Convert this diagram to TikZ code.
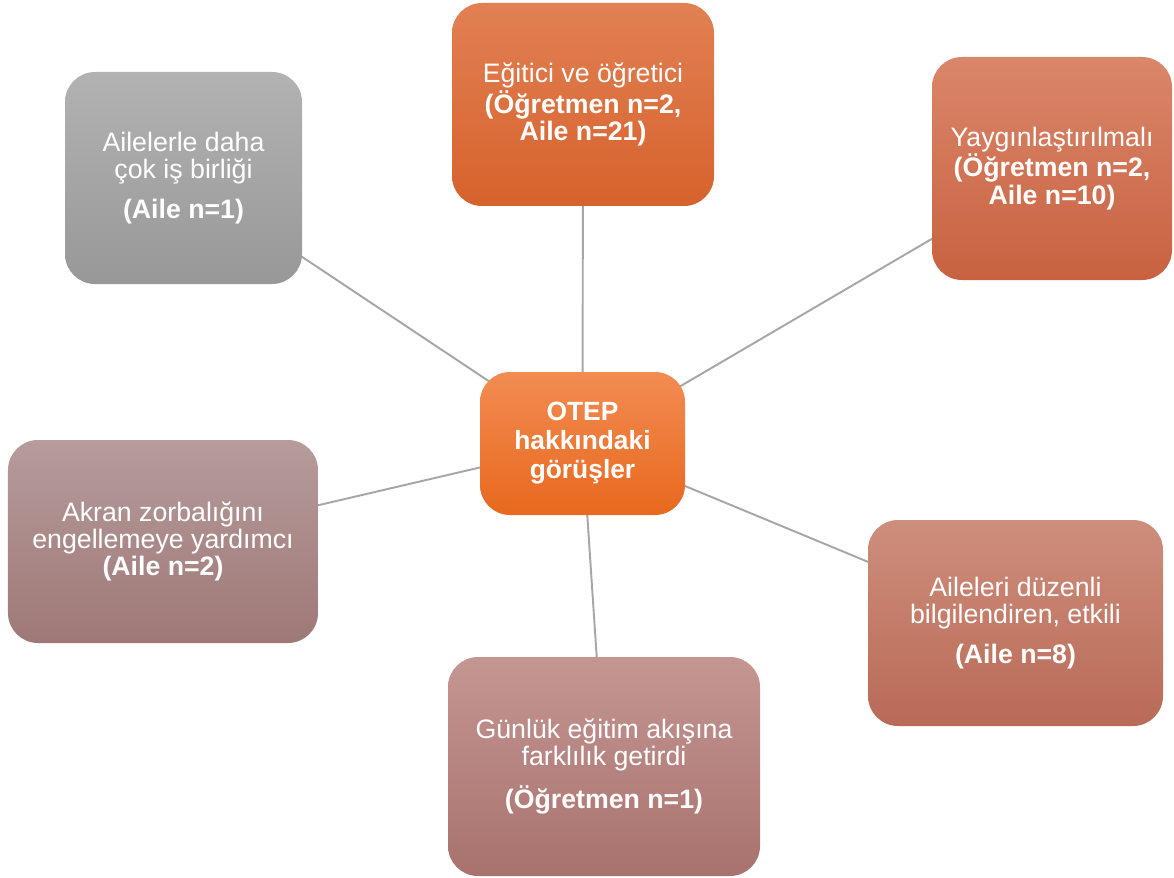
\documentclass[tikz,border=0pt]{standalone}
\usepackage{fontspec}
\setmainfont{Liberation Sans}
\usepackage{tikz}
\usetikzlibrary{backgrounds}

\definecolor{linegray}{HTML}{A6A6A6}

\begin{document}
\begin{tikzpicture}
  \tikzstyle{box} = [rectangle, rounded corners=0.6cm, align=center, text=white,
                     font=\fontsize{15.2}{15.4}\selectfont, inner sep=2pt]
  \tikzstyle{edge} = [draw=linegray, line width=1.1pt]

  \useasboundingbox (0,0) rectangle (23.48,-17.56);

  \node[box, minimum width=4.1cm, minimum height=2.86cm,
        top color={rgb,255:red,242;green,140;blue,82}, bottom color={rgb,255:red,232;green,104;blue,30},
        font=\fontsize{15}{16.5}\selectfont\bfseries]
        (otep) at (11.65,-8.87) {OTEP\\hakkındaki\\görüşler};

  \node[box, minimum width=5.24cm, minimum height=4.06cm,
        top color={rgb,255:red,226;green,128;blue,84}, bottom color={rgb,255:red,214;green,98;blue,44}]
        (egitici) at (11.66,-2.09) {Eğitici ve öğretici\\\textbf{(Öğretmen n=2,}\\\textbf{Aile n=21)}};

  \node[box, minimum width=4.74cm, minimum height=4.24cm,
        top color={rgb,255:red,178;green,178;blue,178}, bottom color={rgb,255:red,152;green,152;blue,152}]
        (isbirligi) at (3.67,-3.56) {Ailelerle daha\\çok iş birliği\\[7pt]\textbf{(Aile n=1)}};

  \node[box, minimum width=4.8cm, minimum height=4.46cm,
        top color={rgb,255:red,218;green,134;blue,106}, bottom color={rgb,255:red,200;green,98;blue,64}]
        (yaygin) at (21.04,-3.37) {Yaygınlaştırılmalı\\\textbf{(Öğretmen n=2,}\\\textbf{Aile n=10)}};

  \node[box, minimum width=6.2cm, minimum height=4.06cm,
        top color={rgb,255:red,182;green,156;blue,156}, bottom color={rgb,255:red,158;green,120;blue,118}]
        (akran) at (3.26,-10.83) {Akran zorbalığını\\engellemeye yardımcı\\\textbf{(Aile n=2)}};

  \node[box, minimum width=5.9cm, minimum height=4.12cm,
        top color={rgb,255:red,206;green,142;blue,124}, bottom color={rgb,255:red,184;green,106;blue,86}]
        (aileleri) at (20.31,-12.46) {Aileleri düzenli\\bilgilendiren, etkili\\[7pt]\textbf{(Aile n=8)}};

  \node[box, minimum width=6.24cm, minimum height=4.38cm,
        top color={rgb,255:red,196;green,150;blue,146}, bottom color={rgb,255:red,168;green,114;blue,110}]
        (gunluk) at (12.08,-15.33) {Günlük eğitim akışına\\farklılık getirdi\\[7pt]\textbf{(Öğretmen n=1)}};

  \begin{scope}[on background layer]
    \draw[edge] (otep.center) -- (egitici.center);
    \draw[edge] (otep.center) -- (isbirligi.center);
    \draw[edge] (otep.center) -- (yaygin.center);
    \draw[edge] (otep.center) -- (akran.center);
    \draw[edge] (otep.center) -- (aileleri.center);
    \draw[edge] (otep.center) -- (gunluk.center);
  \end{scope}
\end{tikzpicture}
\end{document}
